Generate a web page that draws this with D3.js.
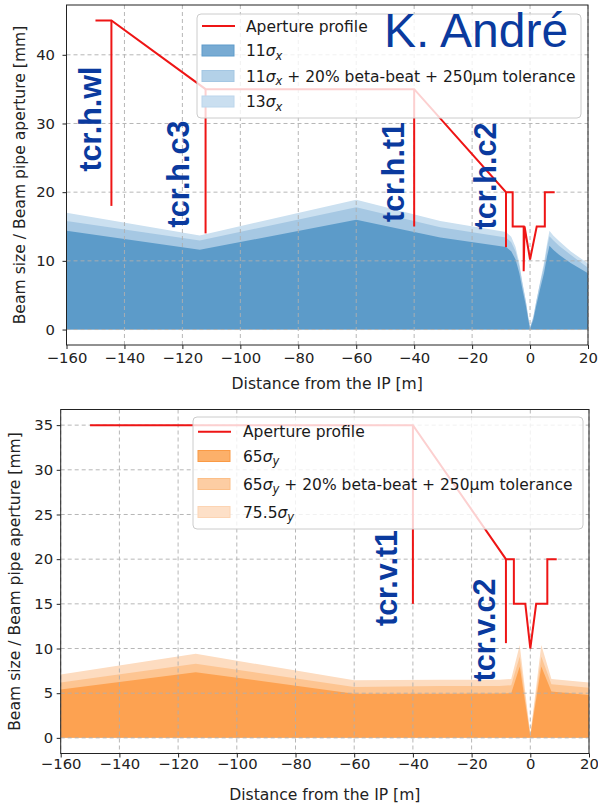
<!DOCTYPE html>
<html>
<head>
<meta charset="utf-8">
<script src="https://cdn.jsdelivr.net/npm/d3@7"></script>
<style>
  html, body { margin: 0; padding: 0; background: #fff; }
  svg { display: block; }
</style>
</head>
<body>
<svg id="fig" width="598" height="806"></svg>
<script>
// ---------- horizontal plane (top panel) ----------
const sTop      = [-160, -114, -60, -31, -8.3, -6.5, -5, -3.7, -2.6, -1.4, -0.6, 0, 1.1, 2.1, 3.4, 4.8, 5.9, 6.7, 8, 10, 14, 20];
const sigX11    = [14.4, 11.6, 16.0, 13.4, 12.0, 11.4, 10.2, 8.2, 5.8, 3.4, 1.4, 0.1, 1.4, 3.4, 5.8, 8.2, 10.7, 12.2, 11.6, 10.9, 9.7, 8.2];
const sigX11bb  = [15.8, 12.95, 17.8, 14.9, 13.4, 12.7, 11.4, 9.2, 6.6, 4.0, 1.8, 0.35, 1.8, 4.0, 6.6, 9.2, 12.0, 13.6, 13.0, 12.2, 10.9, 9.0];
const sigX13    = [17.0, 13.7, 18.9, 15.8, 14.2, 13.5, 12.0, 9.7, 6.8, 4.0, 1.65, 0.35, 1.65, 4.0, 6.8, 9.7, 12.6, 14.4, 13.7, 12.9, 11.4, 9.6];

const apertureTop = [[-150, 45], [-144.5, 45], [-112, 35], [-40, 35], [-8.3, 20], [-6, 20], [-6, 15], [-2.2, 15],
                     [-2.2, 8.5], [-1.9, 15], [0, 10.2], [2.3, 15], [5.1, 15], [5.1, 20], [8.5, 20]];
const jawsTop = [
  [[-144.5, 45], [-144.5, 18]],
  [[-112, 35], [-112, 14]],
  [[-40, 35], [-40, 15]],
  [[-8.3, 20], [-8.3, 12]]
];
const collTop = [
  { name: "tcr.h.wl", s: -144.5, y: 119 },
  { name: "tcr.h.c3", s: -112,   y: 174 },
  { name: "tcr.h.t1", s: -40,    y: 172 },
  { name: "tcr.h.c2", s: -8.3,   y: 176 }
];
const yTicksTop = [0, 10, 20, 30, 40];

// ---------- vertical plane (bottom panel) ----------
const sBot      = [-160, -114, -60, -31, -10.5, -6.5, -3.6, 0, 3.75, 7.2, 20];
const sigY65    = [5.4, 7.35, 4.95, 4.95, 4.96, 5.0, 8.0, 0.15, 8.0, 5.2, 4.8];
const sigY65bb  = [6.2, 8.3, 5.7, 5.8, 5.8, 5.9, 9.1, 0.3, 9.1, 6.0, 5.6];
const sigY75    = [7.1, 9.4, 6.45, 6.5, 6.5, 6.6, 10.4, 0.4, 10.4, 6.6, 6.2];

const apertureBot = [[-150, 35], [-40, 35], [-8.3, 20], [-5.6, 20], [-5.6, 15], [-1.7, 15], [0, 10], [2, 15],
                     [5.8, 15], [5.8, 20], [9, 20]];
const jawsBot = [
  [[-40, 35], [-40, 15]],
  [[-8.3, 20], [-8.3, 10.6]]
];
const collBot = [
  { name: "tcr.v.t1", s: -40,  y: 578 },
  { name: "tcr.v.c2", s: -8.3, y: 630 }
];
const yTicksBot = [0, 5, 10, 15, 20, 25, 30, 35];

const xTicks = [-160, -140, -120, -100, -80, -60, -40, -20, 0, 20];

const svg = d3.select("#fig");
const FONT = "'DejaVu Sans', sans-serif";
const RED = "#ee1515";
const LABEL_BLUE = "#0a3a9e";

// collimator name placement: baseline sits this many px left of the jaw
const labelGap = { "tcr.h.wl": 10, "tcr.h.c3": 17, "tcr.h.t1": 10, "tcr.h.c2": 10, "tcr.v.t1": 16, "tcr.v.c2": 11 };

function panel(opt) {
  const g = svg.append("g");
  const x = d3.scaleLinear().domain([-160, 20]).range([opt.left, opt.right]);
  const y = d3.scaleLinear().domain(opt.yDomain).range([opt.bottom, opt.top]);

  // beam envelopes, widest first
  const bands = [
    { v: opt.env[2], c: opt.colors[2] },
    { v: opt.env[1], c: opt.colors[1] },
    { v: opt.env[0], c: opt.colors[0] }
  ];
  bands.forEach(b => {
    const area = d3.area()
      .x((d, i) => x(opt.s[i]))
      .y0(y(0))
      .y1(d => y(d));
    g.append("path").attr("d", area(b.v)).attr("fill", b.c);
  });

  // grid
  const grid = g.append("g").attr("stroke", "#b0b0b0").attr("stroke-width", 1)
    .attr("stroke-dasharray", "4,3").attr("opacity", 0.9);
  xTicks.forEach(t => grid.append("line")
    .attr("x1", x(t)).attr("x2", x(t)).attr("y1", opt.top).attr("y2", opt.bottom));
  opt.yTicks.forEach(t => grid.append("line")
    .attr("x1", opt.left).attr("x2", opt.right).attr("y1", y(t)).attr("y2", y(t)));

  // aperture profile
  const line = d3.line().x(d => x(d[0])).y(d => y(d[1]));
  const ap = g.append("g").attr("fill", "none").attr("stroke", RED).attr("stroke-width", 2)
    .attr("stroke-linejoin", "miter");
  ap.append("path").attr("d", line(opt.aperture));
  opt.jaws.forEach(j => ap.append("path").attr("d", line(j)));

  // legend
  const L = opt.legend;
  const lg = g.append("g");
  lg.append("rect").attr("x", L.x).attr("y", L.y).attr("width", L.w).attr("height", L.h)
    .attr("rx", 4).attr("fill", "#fff").attr("fill-opacity", 0.8).attr("stroke", "#cccccc");
  lg.append("line").attr("x1", L.hx).attr("x2", L.hx + 33).attr("y1", L.rows[0]).attr("y2", L.rows[0])
    .attr("stroke", RED).attr("stroke-width", 2);
  for (let i = 0; i < 3; i++) {
    lg.append("rect").attr("x", L.hx).attr("y", L.rows[i + 1] - 5.5).attr("width", 32).attr("height", 11)
      .attr("fill", L.patch[i]).attr("stroke", L.edge[i]).attr("stroke-width", 1);
  }
  const txt = (row) => lg.append("text").attr("x", L.tx).attr("y", L.rows[row] + 5.5)
    .attr("font-family", FONT).attr("font-size", 15.5).attr("fill", "#1a1a1a");
  txt(0).text("Aperture profile");
  L.labels.forEach((lab, i) => {
    const t = txt(i + 1);
    t.append("tspan").text(lab.pre);
    t.append("tspan").attr("font-style", "italic").text("σ");
    t.append("tspan").attr("font-style", "italic").attr("font-size", 11.5).attr("dy", 3.5).text(lab.sub);
    if (lab.post) t.append("tspan").attr("dy", -3.5).text(lab.post);
  });

  // collimator names
  opt.coll.forEach(c => {
    g.append("text")
      .attr("transform", `translate(${x(c.s) - labelGap[c.name]},${c.y}) rotate(-90)`)
      .attr("text-anchor", "middle")
      .attr("font-family", "'Liberation Sans', Arial, sans-serif")
      .attr("font-weight", "bold").attr("font-size", 30.5)
      .attr("fill", LABEL_BLUE).text(c.name);
  });

  // frame & axes
  g.append("rect").attr("x", opt.left).attr("y", opt.top)
    .attr("width", opt.right - opt.left).attr("height", opt.bottom - opt.top)
    .attr("fill", "none").attr("stroke", "#222").attr("stroke-width", 1);

  const ax = g.append("g").attr("transform", `translate(0,${opt.bottom})`)
    .call(d3.axisBottom(x).tickValues(xTicks).tickSize(4).tickPadding(opt.xPad).tickSizeOuter(0));
  const ay = g.append("g").attr("transform", `translate(${opt.left},0)`)
    .call(d3.axisLeft(y).tickValues(opt.yTicks).tickSize(4).tickPadding(opt.yPad).tickSizeOuter(0));
  [ax, ay].forEach(a => {
    a.select(".domain").remove();
    a.selectAll("line").attr("stroke", "#222");
    a.selectAll("text").attr("font-family", FONT).attr("font-size", 14.8).attr("fill", "#222");
  });

  g.append("text").attr("x", (opt.left + opt.right) / 2).attr("y", opt.xLabelY)
    .attr("text-anchor", "middle").attr("font-family", FONT).attr("font-size", 15.6).attr("fill", "#222")
    .text("Distance from the IP [m]");
  g.append("text").attr("transform", `translate(${opt.yLabelX},${(opt.top + opt.bottom) / 2}) rotate(-90)`)
    .attr("text-anchor", "middle").attr("font-family", FONT).attr("font-size", 15.6).attr("fill", "#222")
    .text("Beam size / Beam pipe aperture [mm]");
  return g;
}

panel({
  left: 66.5, right: 588, top: 5, bottom: 345,
  yDomain: [-2.25, 47.25], yTicks: yTicksTop,
  s: sTop, env: [sigX11, sigX11bb, sigX13],
  colors: ["#5c9bc9", "#a6c8e3", "#cbe0f0"],
  aperture: apertureTop, jaws: jawsTop, coll: collTop,
  xPad: 3, yPad: 7.5, xLabelY: 389, yLabelX: 25,
  legend: {
    x: 197, y: 14, w: 384, h: 104, hx: 202, tx: 246,
    rows: [26, 50.5, 76, 101.5],
    patch: ["#78abd3", "#b3d1e8", "#cadff0"],
    edge: ["#5f9ccb", "#a4c7e3", "#bcd6ec"],
    labels: [
      { pre: "11", sub: "x" },
      { pre: "11", sub: "x", post: " + 20% beta-beat + 250μm tolerance" },
      { pre: "13", sub: "x" }
    ]
  }
});

panel({
  left: 60.7, right: 589, top: 409.5, bottom: 753.5,
  yDomain: [-1.75, 36.75], yTicks: yTicksBot,
  s: sBot, env: [sigY65, sigY65bb, sigY75],
  colors: ["#fda251", "#fdc592", "#fddcc0"],
  aperture: apertureBot, jaws: jawsBot, coll: collBot,
  xPad: 1, yPad: 3.5, xLabelY: 800, yLabelX: 20,
  legend: {
    x: 193, y: 417, w: 390, h: 112, hx: 198, tx: 243,
    rows: [431.7, 456, 484, 512],
    patch: ["#fcb06a", "#fdcda3", "#fde0c8"],
    edge: ["#fa9a45", "#fcbf88", "#fcd4b3"],
    labels: [
      { pre: "65", sub: "y" },
      { pre: "65", sub: "y", post: " + 20% beta-beat + 250μm tolerance" },
      { pre: "75.5", sub: "y" }
    ]
  }
});

// author credit
svg.append("text").attr("x", 384).attr("y", 46.5)
  .attr("font-family", "'Liberation Sans', Arial, sans-serif").attr("font-size", 48)
  .attr("fill", LABEL_BLUE).text("K. André");
</script>
</body>
</html>
